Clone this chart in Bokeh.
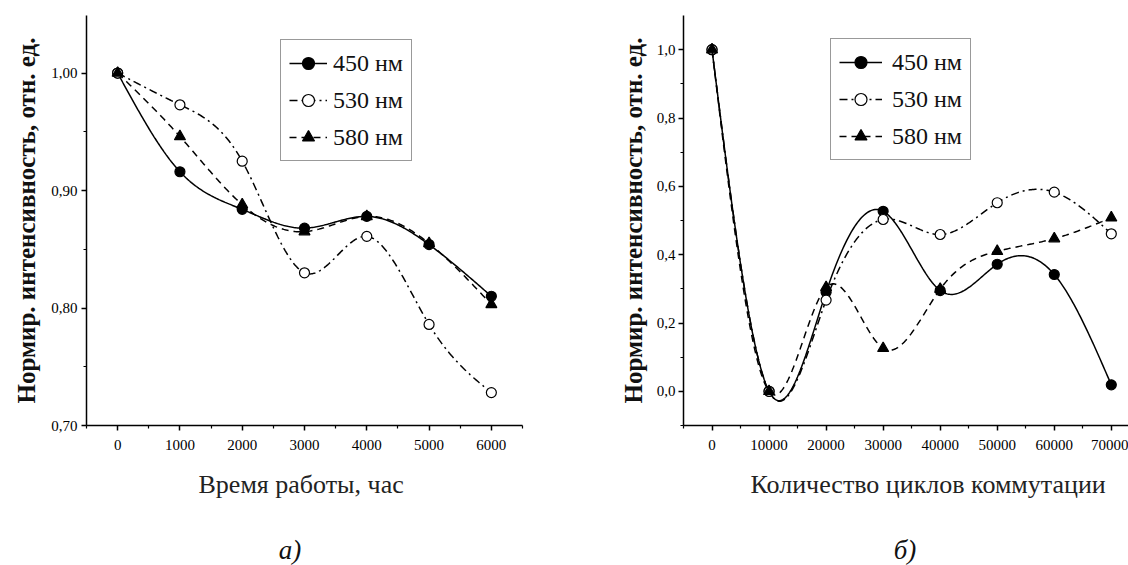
import numpy as np
from bokeh.plotting import figure
from bokeh.models import (FixedTicker, CustomJSTickFormatter, Legend, LegendItem,
                          Title, Range1d, Div)
from bokeh.layouts import row, column
from bokeh.embed import file_html
from bokeh.resources import INLINE

# ---------------- data ----------------
hours = [0, 1000, 2000, 3000, 4000, 5000, 6000]
hours_450 = [1.000, 0.916, 0.884, 0.868, 0.878, 0.854, 0.810]
hours_530 = [1.000, 0.973, 0.925, 0.830, 0.861, 0.786, 0.728]
hours_580 = [1.000, 0.946, 0.888, 0.865, 0.878, 0.855, 0.803]

cycles = [0, 10000, 20000, 30000, 40000, 50000, 60000, 70000]
cycles_450 = [1.000, 0.000, 0.290, 0.527, 0.295, 0.372, 0.342, 0.019]
cycles_530 = [1.000, 0.000, 0.267, 0.503, 0.459, 0.552, 0.583, 0.461]
cycles_580 = [1.000, 0.000, 0.304, 0.126, 0.299, 0.410, 0.447, 0.508]

series_labels = ["450 нм", "530 нм", "580 нм"]
left_ticks_x = [0, 1000, 2000, 3000, 4000, 5000, 6000]
left_ticks_y = [0.70, 0.80, 0.90, 1.00]
right_ticks_x = [0, 10000, 20000, 30000, 40000, 50000, 60000, 70000]
right_ticks_y = [0.0, 0.2, 0.4, 0.6, 0.8, 1.0]
captions = ["а)", "б)"]

SERIF = "Liberation Serif"
NARROW = "Liberation Sans Narrow"


def natural_spline(x, y, n=300):
    """Smooth connecting curve (natural cubic spline) through the data points."""
    x = np.asarray(x, float)
    y = np.asarray(y, float)
    m = len(x)
    h = np.diff(x)
    A = np.zeros((m, m))
    b = np.zeros(m)
    A[0, 0] = 1.0
    A[-1, -1] = 1.0
    for i in range(1, m - 1):
        A[i, i - 1] = h[i - 1]
        A[i, i] = 2 * (h[i - 1] + h[i])
        A[i, i + 1] = h[i]
        b[i] = 6 * ((y[i + 1] - y[i]) / h[i] - (y[i] - y[i - 1]) / h[i - 1])
    M = np.linalg.solve(A, b)
    xs = np.linspace(x[0], x[-1], n)
    idx = np.clip(np.searchsorted(x, xs) - 1, 0, m - 2)
    x0, x1 = x[idx], x[idx + 1]
    hh = x1 - x0
    t1 = x1 - xs
    t0 = xs - x0
    ys = (M[idx] * t1 ** 3 / (6 * hh) + M[idx + 1] * t0 ** 3 / (6 * hh)
          + (y[idx] / hh - M[idx] * hh / 6) * t1
          + (y[idx + 1] / hh - M[idx + 1] * hh / 6) * t0)
    return xs, ys


def style_axes(p, xt, xminor, yt, yminor, ydec, ystandoff):
    for ax in (p.xaxis[0], p.yaxis[0]):
        ax.axis_line_color = "black"
        ax.axis_line_width = 1.5
        ax.major_tick_line_color = "black"
        ax.major_tick_line_width = 1.5
        ax.minor_tick_line_color = "black"
        ax.minor_tick_line_width = 1.2
        ax.major_tick_out = 5
        ax.major_tick_in = 0
        ax.minor_tick_out = 3
        ax.minor_tick_in = 0
        ax.major_label_text_font = NARROW
        ax.major_label_text_font_size = "15px"
        ax.major_label_text_color = "black"
    p.xaxis[0].ticker = FixedTicker(ticks=xt, minor_ticks=xminor)
    p.yaxis[0].ticker = FixedTicker(ticks=yt, minor_ticks=yminor)
    p.xaxis[0].formatter = CustomJSTickFormatter(code="return tick.toFixed(0);")
    p.yaxis[0].formatter = CustomJSTickFormatter(
        code="return tick.toFixed(%d).replace('.', ',');" % ydec)
    p.xaxis[0].major_label_standoff = 9
    p.yaxis[0].major_label_standoff = ystandoff
    p.xgrid.visible = False
    p.ygrid.visible = False
    p.outline_line_color = None


def add_series(p, x, ys, marker_sizes):
    dashes = ["solid", "8 4 2 4", "7 5"]
    markers = ["circle", "circle", "triangle"]
    fills = ["black", "white", "black"]
    items = []
    for y, dash, mk, fc, lab, ms in zip(ys, dashes, markers, fills, series_labels, marker_sizes):
        sx, sy = natural_spline(x, y)
        lr = p.line(sx, sy, line_color="black", line_width=1.5, line_dash=dash)
        sr = p.scatter(x, y, marker=mk, size=ms, fill_color=fc, line_color="black",
                       line_width=1.2)
        items.append(LegendItem(label=lab, renderers=[lr, sr]))
    return items


def make_legend(items, loc, glyph_w, standoff):
    lg = Legend(items=items, location=loc)
    lg.label_text_font = SERIF
    lg.label_text_font_size = "24px"
    lg.label_text_color = "#111"
    lg.glyph_width = glyph_w
    lg.glyph_height = 30
    lg.label_height = 30
    lg.label_standoff = standoff
    lg.spacing = 7
    lg.padding = 8
    lg.margin = 0
    lg.border_line_color = "#333"
    lg.border_line_width = 1
    lg.background_fill_color = "white"
    lg.background_fill_alpha = 1
    return lg


def caption_div(text, width, left):
    html = ('<div style="margin-left:%dpx;width:80px;text-align:center;margin-top:10px;'
            'font-family:\'Liberation Serif\',serif;font-style:italic;font-size:27px;'
            'line-height:30px;color:#111">%s</div>' % (left, text))
    return Div(text=html, width=width, height=40, margin=0)


# ---------------- left panel ----------------
p1 = figure(width=568, height=525, output_backend="svg", toolbar_location=None,
            x_range=Range1d(-500, 6500), y_range=Range1d(0.70, 1.049),
            min_border_left=86, min_border_right=46, min_border_top=15,
            min_border_bottom=100)
style_axes(p1, left_ticks_x, [-500, 500, 1500, 2500, 3500, 4500, 5500, 6500],
           left_ticks_y, [0.75, 0.85, 0.95], 2, 4)
items1 = add_series(p1, hours, [hours_450, hours_530, hours_580], [10, 10, 11])
p1.add_layout(make_legend(items1, (194, 264), 38, 6))

p1.add_layout(Title(text="Нормир. интенсивность, отн. ед.", text_font=SERIF,
                    text_font_style="bold", text_font_size="25px", align="center",
                    standoff=18, text_color="#111"), "left")
p1.add_layout(Title(text="Время работы, час", text_font=SERIF, text_font_style="normal",
                    text_font_size="26px", align="left", offset=112, standoff=30,
                    text_color="#222"), "below")

# ---------------- right panel ----------------
p2 = figure(width=560, height=525, output_backend="svg", toolbar_location=None,
            x_range=Range1d(-5000, 73015), y_range=Range1d(-0.1, 1.1),
            min_border_left=115, min_border_right=0, min_border_top=15,
            min_border_bottom=98)
style_axes(p2, right_ticks_x, [-5000, 5000, 15000, 25000, 35000, 45000, 55000, 65000],
           right_ticks_y, [-0.1, 0.1, 0.3, 0.5, 0.7, 0.9], 1, 3)
items2 = add_series(p2, cycles, [cycles_450, cycles_530, cycles_580], [10, 10, 11])
p2.add_layout(make_legend(items2, (147, 265), 43, 10))

p2.add_layout(Title(text="Нормир. интенсивность, отн. ед.", text_font=SERIF,
                    text_font_style="bold", text_font_size="25px", align="center",
                    standoff=14, text_color="#111"), "left")
p2.add_layout(Title(text="Количество циклов коммутации", text_font=SERIF,
                    text_font_style="normal", text_font_size="26px", align="left",
                    offset=67, standoff=30, text_color="#222"), "below")

layout = column(row(p1, p2),
                row(caption_div(captions[0], 568, 250), caption_div(captions[1], 560, 297)))
open("out.html", "w").write(file_html(layout, INLINE))
